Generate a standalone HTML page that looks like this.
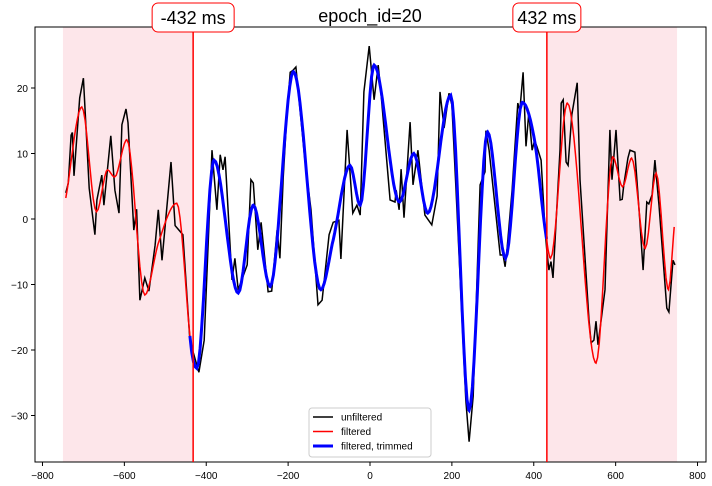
<!DOCTYPE html>
<html><head><meta charset="utf-8"><style>
body{margin:0;background:#fff;}
svg{display:block;font-family:"Liberation Sans","DejaVu Sans",sans-serif;}
</style></head><body>
<svg id="chart" width="712" height="486">
<g id="shade"></g><g id="grid"></g><g id="series"></g><g id="axes"></g><g id="ann"></g>
</svg>
<script>
const xTicks=[-800,-600,-400,-200,0,200,400,600,800];
const yTicks=[-30,-20,-10,0,10,20];
const trimStart=-432, trimEnd=432;
const filtT=[-743,-704,-668,-641,-624,-594,-550,-517,-472,-435,-423,-381,-322,-285,-244,-187,-120,-90,-49,-24,10,72,107,141,197,242,287,331,372,403,427,441,482,552,593,617,639,672,699,729,743];
const filtV=[3.2,17.1,1.1,7.5,6.4,12.1,-11.6,-3.7,2.4,-20.5,-22.8,9.0,-11.3,2.1,-10.3,22.5,-10.8,-3.2,8.2,2.1,23.5,2.6,10.0,0.9,18.9,-29.2,13.3,-6.0,17.8,11.6,-1.2,-6.0,17.7,-22,9.5,4.9,9.3,-4.5,7.0,-10.8,-1.2];
const rawT=[-743,-737,-730,-727,-723,-709,-700,-686,-672,-667,-655,-650,-633,-623,-613,-606,-596,-591,-577,-570,-562,-550,-540,-525,-517,-508,-486,-476,-457,-440,-432,-418,-405,-386,-374,-366,-359,-354,-337,-330,-322,-300,-291,-285,-274,-266,-249,-240,-227,-220,-212,-203,-195,-188,-181,-159,-144,-127,-117,-100,-90,-76,-71,-56,-42,-32,-24,-15,-2,10,20,27,49,61,64,71,76,83,98,105,117,134,151,164,171,181,193,200,210,234,242,252,269,281,283,291,318,325,330,335,347,361,366,374,381,388,396,402,408,418,427,432,437,442,447,464,467,472,479,484,493,506,513,535,540,547,552,557,574,586,591,601,611,616,620,630,635,647,659,667,676,681,689,696,706,725,730,740,745];
const rawV=[4,5.5,12.8,13.2,6.6,18.5,21.5,4.7,-2.4,2.9,6.7,2.1,12.7,4.4,0.9,14.4,16.8,14.7,-1.7,1.5,-12.4,-9,-11,-4,1.4,-6.3,8.7,-1,-2.4,-18.5,-20.3,-23.4,-18.5,10.5,1.4,9.8,7.5,9.5,-9.3,-6,-10.8,-7,6,5.5,-4.7,-0.5,-11.1,-11,-1.7,-6,6.3,15.9,22.4,22.7,23.2,9,1.4,-13.1,-12.4,-2.4,-0.5,-0.2,-6.1,13.6,0.9,2.1,0.6,19.4,26.4,18.2,23.5,19,2.9,2.6,4.4,1.4,7.6,0.2,14.8,5.2,10.5,0.6,-0.9,3.5,19.4,13.9,19.2,17.4,4.5,-27.6,-34,-27,5.2,7.2,13.5,10.5,-5.5,-5.5,-7.3,-4.5,4.4,17.7,16.5,22.4,11.1,16.2,10.5,12,11,9,-1,-5,-7.8,-6.5,-9,10.5,17.7,18.2,8.7,8.2,15.9,20.8,6,-15.4,-18.9,-18.5,-15.6,-19.2,-10.8,13.6,6,13.6,2.9,3,5.2,9.3,10.5,10.2,-0.2,-7.8,2.6,2.3,3.7,9,2.1,-13.6,-14.2,-6.3,-7];
const NS="http://www.w3.org/2000/svg";
const L=35,R=706,T=27,B=462;
const xs=t=>370+t*0.4094;
const ys=v=>219-v*6.55;
function mk(tag,attrs,parent){const e=document.createElementNS(NS,tag);for(const k in attrs)e.setAttribute(k,attrs[k]);parent.appendChild(e);return e;}
function mono(X,Y,step){const n=X.length,d=[],m=new Array(n);for(let i=0;i<n-1;i++)d.push((Y[i+1]-Y[i])/(X[i+1]-X[i]));m[0]=d[0];m[n-1]=d[n-2];for(let i=1;i<n-1;i++)m[i]=(d[i-1]*d[i]<=0)?0:(d[i-1]+d[i])/2;
const out=[];for(let i=0;i<n-1;i++){const h=X[i+1]-X[i];for(let t=X[i];t<X[i+1];t+=step){const s=(t-X[i])/h,h00=2*s*s*s-3*s*s+1,h10=s*s*s-2*s*s+s,h01=-2*s*s*s+3*s*s,h11=s*s*s-s*s;out.push([t,h00*Y[i]+h10*h*m[i]+h01*Y[i+1]+h11*h*m[i+1]]);}}out.push([X[n-1],Y[n-1]]);return out;}
const shade=document.getElementById('shade');
let r=mk('rect',{x:xs(-750),y:T,width:xs(trimStart)-xs(-750),height:B-T,fill:'#fde6ea'},shade);


r=mk('rect',{x:xs(trimEnd),y:T,width:xs(750)-xs(trimEnd),height:B-T,fill:'#fde6ea'},shade);


const ser=document.getElementById('series');
const pts=(a)=>a.map(p=>xs(p[0]).toFixed(1)+','+ys(p[1]).toFixed(1)).join(' ');
let raw=rawT.map((t,i)=>[t,rawV[i]]);
let pl=mk('polyline',{points:pts(raw),fill:'none',stroke:'#000','stroke-width':1.5},ser);


const filt=mono(filtT,filtV,4);
pl=mk('polyline',{points:pts(filt),fill:'none',stroke:'red','stroke-width':1.5},ser);


pl=mk('polyline',{points:pts(filt.filter(p=>p[0]>=trimStart-8&&p[0]<=trimEnd)),fill:'none',stroke:'#0000ff','stroke-width':3},ser);


const ann=document.getElementById('ann');
[trimStart,trimEnd].forEach((v,i)=>{
 const ln=mk('line',{x1:xs(v),x2:xs(v),y1:T,y2:B,stroke:'red','stroke-width':1.5},ann);
 
 
 const txt=(v<0?'-':'')+Math.abs(v)+' ms';
 const w=i?68:82;
 const bx=mk('rect',{x:xs(v)-w/2,y:3,width:w,height:29,rx:6,fill:'#fff',stroke:'red','stroke-width':1},ann);
 
 
 const tx=mk('text',{x:xs(v),y:24,'text-anchor':'middle','font-size':18,fill:'#000'},ann);
 tx.textContent=txt;
 
 
});
const ax=document.getElementById('axes');
let fr=mk('rect',{x:L,y:T,width:R-L,height:B-T,fill:'none',stroke:'#000','stroke-width':1},ax);


xTicks.forEach(t=>{const x=xs(t);mk('line',{x1:x,x2:x,y1:B,y2:B+4,stroke:'#000'},ax);
 const tx=mk('text',{x:x,y:B+17,'text-anchor':'middle','font-size':10,fill:'#000'},ax);tx.textContent=(t<0?'\u2212':'')+Math.abs(t);
 
 });
yTicks.forEach(v=>{const y=ys(v);mk('line',{x1:L-4,x2:L,y1:y,y2:y,stroke:'#000'},ax);
 const tx=mk('text',{x:L-7,y:y+4,'text-anchor':'end','font-size':10,fill:'#000'},ax);tx.textContent=(v<0?'\u2212':'')+Math.abs(v);
 
 });
const title=mk('text',{x:370,y:22,'text-anchor':'middle','font-size':18,fill:'#000'},ax);
title.textContent='epoch_id=20';


const lg=mk('g',{},ax);


mk('rect',{x:309,y:408,width:122,height:49,rx:3,fill:'#fff',stroke:'#ccc'},lg);
[['unfiltered','#000',1.5],['filtered','red',1.5],['filtered, trimmed','#0000ff',3]].forEach((e,i)=>{
 const y=417+i*14.5;
 const g=mk('g',{},lg);
 
 
 mk('line',{x1:313,x2:333,y1:y,y2:y,stroke:e[1],'stroke-width':e[2]},g);
 const t=mk('text',{x:341,y:y+3.5,'font-size':10,fill:'#000'},g);t.textContent=e[0];
});
</script>
</body></html>
